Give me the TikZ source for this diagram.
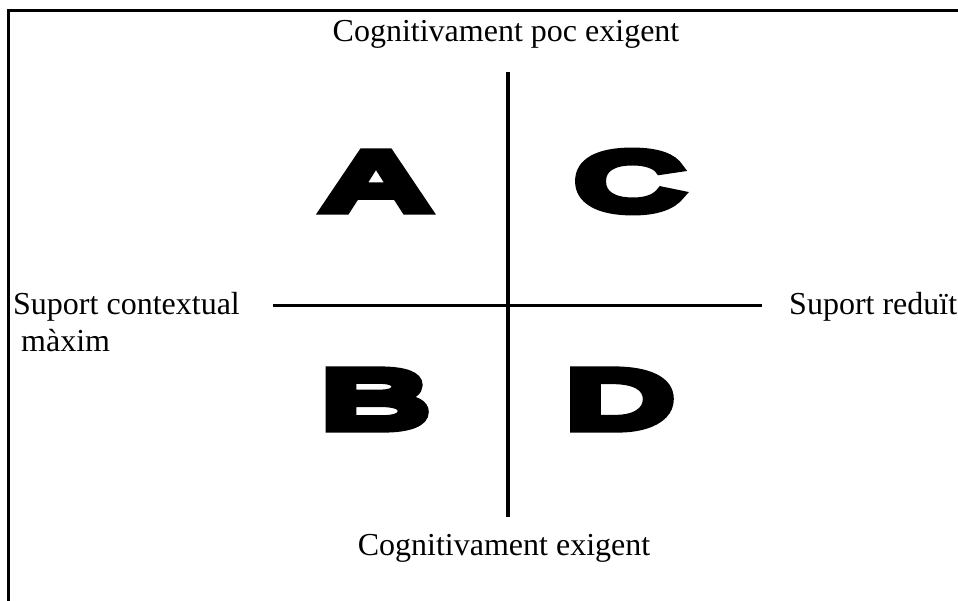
\documentclass[tikz,border=0pt]{standalone}
\usepackage{fontspec}
\setmainfont{Liberation Serif}
\newfontfamily\blockfont{Liberation Sans}[FakeStretch=1.85,FakeBold=10]
\usetikzlibrary{positioning}

\begin{document}
\begin{tikzpicture}[
      x=1pt, y=-1pt,
      every node/.style={inner sep=0pt},
      axislabel/.style={font=\fontsize{32}{37}\selectfont, align=left},
      quadrant/.style={font=\blockfont\bfseries\fontsize{84}{90}\selectfont},
      axis/.style={line width=3.5pt},
      frame/.style={line width=3pt}
  ]
    \useasboundingbox (0,0) rectangle (958,601);
    % outer frame, cut at the right and bottom
    \draw[frame] (8.5,601) -- (8.5,11) -- (958,11);
    % axes
    \coordinate (ytop) at (508,72);
    \coordinate (ybot) at (508,517);
    \coordinate (xleft) at (273,305.5);
    \coordinate (xright) at (762,305.5);
    \draw[axis] (ytop) -- (ybot);
    \draw[axis] (xleft) -- (xright);
    % axis labels
    \node[axislabel, anchor=base] (easy) at (506,42) {Cognitivament poc exigent};
    \node[axislabel, anchor=base] (hard) at (504,555) {Cognitivament exigent};
    \node[axislabel, anchor=base west] (maxim) at (13,352) {Suport contextual\\\hspace{0.25em}màxim};
    \node[axislabel, anchor=base west] (reduit) at (789,315) {Suport reduït};
    % quadrants
    \node[quadrant] (qA) at (376,181.5) {A};
    \node[quadrant] (qC) at (629,181.5) {C};
    \node[quadrant] (qB) at (375.5,399.5) {B};
    \node[quadrant] (qD) at (620,399.5) {D};
  \end{tikzpicture}
\end{document}
